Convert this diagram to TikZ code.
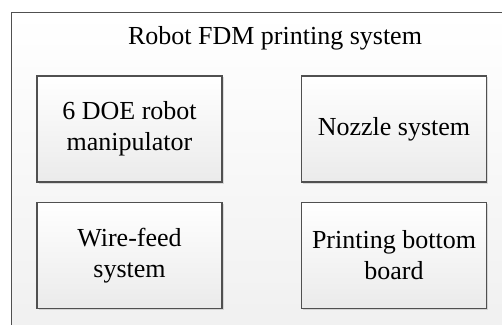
\documentclass[tikz,border=0pt]{standalone}
\usepackage{fontspec}
\setmainfont{Liberation Serif}
\usetikzlibrary{shadows}
\definecolor{edge}{HTML}{505050}
\tikzset{
  frame/.style={draw=edge, line width=1.2pt, top color=white, bottom color=black!6},
  part/.style={draw=edge, line width=1.2pt, top color=white, bottom color=black!8,
    minimum width=185pt, minimum height=106pt, align=center, inner sep=0pt,
    font=\fontsize{26}{31}\selectfont, drop shadow={shadow xshift=1.5pt, shadow yshift=-1.5pt, opacity=0.25}},
  title/.style={font=\fontsize{26}{31}\selectfont, inner sep=0pt}
}
\begin{document}
\begin{tikzpicture}[x=1pt,y=1pt]
\useasboundingbox (0,0) rectangle (502,324);
\clip (0,0) rectangle (502,324);
\fill[white] (0,0) rectangle (502,324);
\node[frame, minimum width=540pt, minimum height=330pt, anchor=north west] (outer) at (11,312) {};
\node[title] (t) at (275,286) {Robot FDM printing system};
\node[part] (a) at (129.5,195) {6 DOE robot\\manipulator};
\node[part] (b) at (394,195) {Nozzle system};
\node[part] (c) at (129.5,68.5) {Wire-feed\\system};
\node[part] (d) at (394,68.5) {Printing bottom\\board};
\end{tikzpicture}
\end{document}
